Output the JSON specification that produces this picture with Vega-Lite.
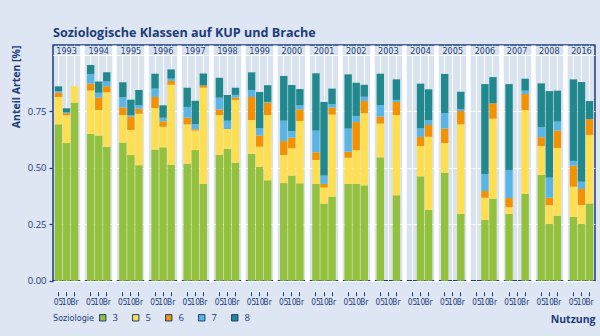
{
  "$schema": "https://vega.github.io/schema/vega-lite/v6.json",
  "autosize": "none",
  "padding": {"left": 53, "top": 45, "right": 5, "bottom": 55},
  "width": 542,
  "height": 235.7,
  "background": "#dde6f2",
  "title": {"text": "Soziologische Klassen auf KUP und Brache", "anchor": "start", "frame": "group", "fontSize": 12.6, "fontWeight": "bold", "color": "#1d3c7a", "offset": 5, "font": "Open Sans"},
  "datasets": {
    "bars": [
      {"b":"1993 05","3":0.692,"5":0.121,"6":0.019,"7":0.007,"8":0.021},
      {"b":"1993 10","3":0.609,"5":0.123,"6":0.009,"7":0.004,"8":0.018},
      {"b":"1993 Br","3":0.788,"5":0.072,"6":0,"7":0,"8":0},
      {"b":"1994 05","3":0.649,"5":0.193,"6":0.031,"7":0.041,"8":0.040},
      {"b":"1994 10","3":0.643,"5":0.112,"6":0.055,"7":0.022,"8":0.050},
      {"b":"1994 Br","3":0.593,"5":0.241,"6":0.027,"7":0.021,"8":0.040},
      {"b":"1995 05","3":0.611,"5":0.122,"6":0.034,"7":0.044,"8":0.067},
      {"b":"1995 10","3":0.556,"5":0.111,"6":0.059,"7":0.006,"8":0.069},
      {"b":"1995 Br","3":0.511,"5":0.228,"6":0.022,"7":0.015,"8":0.068},
      {"b":"1996 05","3":0.580,"5":0.184,"6":0.049,"7":0.037,"8":0.066},
      {"b":"1996 10","3":0.590,"5":0.091,"6":0.024,"7":0.016,"8":0.055},
      {"b":"1996 Br","3":0.513,"5":0.354,"6":0.017,"7":0.010,"8":0.041},
      {"b":"1997 05","3":0.518,"5":0.174,"6":0.029,"7":0.048,"8":0.085},
      {"b":"1997 10","3":0.578,"5":0.086,"6":0.006,"7":0.023,"8":0.103},
      {"b":"1997 Br","3":0.428,"5":0.426,"6":0.010,"7":0,"8":0.053},
      {"b":"1998 05","3":0.556,"5":0.177,"6":0.025,"7":0.052,"8":0.088},
      {"b":"1998 10","3":0.584,"5":0.087,"6":0,"7":0.037,"8":0.114},
      {"b":"1998 Br","3":0.522,"5":0.278,"6":0.011,"7":0.011,"8":0.032},
      {"b":"1999 05","3":0.561,"5":0.150,"6":0.102,"7":0.031,"8":0.078},
      {"b":"1999 10","3":0.504,"5":0.089,"6":0.050,"7":0.031,"8":0.161},
      {"b":"1999 Br","3":0.444,"5":0.289,"6":0.055,"7":0.003,"8":0.074},
      {"b":"2000 05","3":0.432,"5":0.124,"6":0.062,"7":0.090,"8":0.198},
      {"b":"2000 10","3":0.465,"5":0.121,"6":0.047,"7":0.029,"8":0.204},
      {"b":"2000 Br","3":0.431,"5":0.276,"6":0.051,"7":0.018,"8":0.072},
      {"b":"2001 05","3":0.428,"5":0.106,"6":0.034,"7":0.096,"8":0.254},
      {"b":"2001 10","3":0.341,"5":0.071,"6":0.016,"7":0.037,"8":0.326},
      {"b":"2001 Br","3":0.372,"5":0.363,"6":0.031,"7":0.015,"8":0.069},
      {"b":"2002 05","3":0.428,"5":0.116,"6":0.027,"7":0.102,"8":0.240},
      {"b":"2002 10","3":0.428,"5":0.149,"6":0.125,"7":0.027,"8":0.147},
      {"b":"2002 Br","3":0.422,"5":0.319,"6":0.054,"7":0.019,"8":0.053},
      {"b":"2003 05","3":0.546,"5":0.149,"6":0.031,"7":0.051,"8":0.139},
      {"b":"2003 Br","3":0.378,"5":0.355,"6":0.058,"7":0.009,"8":0.091},
      {"b":"2004 10","3":0.462,"5":0.134,"6":0.040,"7":0.038,"8":0.198},
      {"b":"2004 Br","3":0.313,"5":0.324,"6":0.052,"7":0.021,"8":0.137},
      {"b":"2005 05","3":0.478,"5":0.131,"6":0.064,"7":0.069,"8":0.173},
      {"b":"2005 Br","3":0.295,"5":0.397,"6":0.059,"7":0.009,"8":0.076},
      {"b":"2006 10","3":0.269,"5":0.098,"6":0.030,"7":0.075,"8":0.398},
      {"b":"2006 Br","3":0.363,"5":0.354,"6":0.068,"7":0,"8":0.116},
      {"b":"2007 05","3":0.295,"5":0.030,"6":0.041,"7":0.124,"8":0.380},
      {"b":"2007 Br","3":0.384,"5":0.371,"6":0.071,"7":0.015,"8":0.053},
      {"b":"2008 05","3":0.468,"5":0.128,"6":0.039,"7":0.044,"8":0.194},
      {"b":"2008 10","3":0.251,"5":0.083,"6":0.033,"7":0.089,"8":0.383},
      {"b":"2008 Br","3":0.288,"5":0.299,"6":0.077,"7":0.040,"8":0.137},
      {"b":"2016 05","3":0.282,"5":0.134,"6":0.093,"7":0.021,"8":0.361},
      {"b":"2016 10","3":0.251,"5":0.084,"6":0.071,"7":0.032,"8":0.441},
      {"b":"2016 Br","3":0.342,"5":0.303,"6":0.070,"7":0,"8":0.080}
    ],
    "years": [
      {"b":"1993 10","j":"1993"},{"b":"1994 10","j":"1994"},{"b":"1995 10","j":"1995"},{"b":"1996 10","j":"1996"},
      {"b":"1997 10","j":"1997"},{"b":"1998 10","j":"1998"},{"b":"1999 10","j":"1999"},{"b":"2000 10","j":"2000"},
      {"b":"2001 10","j":"2001"},{"b":"2002 10","j":"2002"},{"b":"2003 10","j":"2003"},{"b":"2004 10","j":"2004"},
      {"b":"2005 10","j":"2005"},{"b":"2006 10","j":"2006"},{"b":"2007 10","j":"2007"},{"b":"2008 10","j":"2008"},
      {"b":"2016 10","j":"2016"}
    ]
  },
  "encoding": {
    "x": {
      "field": "b", "type": "nominal",
      "scale": {
        "domain": ["1993 05","1993 10","1993 Br","1993 -","1994 05","1994 10","1994 Br","1994 -","1995 05","1995 10","1995 Br","1995 -","1996 05","1996 10","1996 Br","1996 -","1997 05","1997 10","1997 Br","1997 -","1998 05","1998 10","1998 Br","1998 -","1999 05","1999 10","1999 Br","1999 -","2000 05","2000 10","2000 Br","2000 -","2001 05","2001 10","2001 Br","2001 -","2002 05","2002 10","2002 Br","2002 -","2003 05","2003 10","2003 Br","2003 -","2004 05","2004 10","2004 Br","2004 -","2005 05","2005 10","2005 Br","2005 -","2006 05","2006 10","2006 Br","2006 -","2007 05","2007 10","2007 Br","2007 -","2008 05","2008 10","2008 Br","2008 -","2016 05","2016 10","2016 Br"],
        "paddingInner": 0.08, "paddingOuter": 0.22
      },
      "axis": {
        "title": "Nutzung", "titleAnchor": "end", "titleFontWeight": "bold", "titleFontSize": 10.5, "titleColor": "#1d3c7a", "titlePadding": 9, "titleFont": "Open Sans",
        "labelExpr": "indexof(datum.value, '-') >= 0 ? '' : split(datum.value, ' ')[1]",
        "labelAngle": 0, "labelOverlap": false, "labelFontSize": 8.3, "labelColor": "#1d3c7a", "labelPadding": 2,
        "labelFont": "Liberation Sans Narrow, DejaVu Sans Condensed, sans-serif",
        "domain": false, "offset": 11, "tickSize": 4, "tickWidth": 1,
        "tickColor": {"condition": {"test": "indexof(datum.value, '-') >= 0", "value": "transparent"}, "value": "#1d3c7a"},
        "grid": true, "gridColor": "white",
        "gridWidth": {"condition": {"test": "indexof(datum.value, '-') >= 0", "value": 4.5}, "value": 1}
      }
    }
  },
  "layer": [
    {
      "data": {"name": "bars"},
      "transform": [{"fold": ["3","5","6","7","8"], "as": ["Soziologie","v"]}],
      "mark": {"type": "bar"},
      "encoding": {
        "y": {
          "field": "v", "type": "quantitative", "stack": "zero",
          "scale": {"domain": [0, 1.043], "nice": false, "zero": true},
          "axis": {
            "title": "Anteil Arten [%]", "titleAnchor": "end", "titleFontWeight": "bold", "titleFontSize": 10.5, "titleColor": "#1d3c7a", "titlePadding": 6, "titleFont": "Open Sans",
            "values": [0, 0.125, 0.25, 0.375, 0.5, 0.625, 0.75, 0.875, 1.0],
            "labelExpr": "(datum.value * 4) % 1 == 0 && datum.value < 1 ? format(datum.value, '.2f') : ''",
            "labelFontSize": 9.5, "labelColor": "#1d3c7a", "labelPadding": 3, "labelFont": "Open Sans",
            "domain": false, "tickSize": 4, "tickWidth": 1.2,
            "tickColor": {"condition": {"test": "(datum.value * 4) % 1 == 0 && datum.value < 1", "value": "#1d3c7a"}, "value": "transparent"},
            "grid": true, "gridColor": "white", "gridWidth": 1
          }
        },
        "color": {
          "field": "Soziologie", "type": "nominal",
          "scale": {"domain": ["3","5","6","7","8"], "range": ["#94c13c","#ffdf4f","#f39200","#5bb5e4","#21898d"]},
          "legend": {
            "orient": "none", "legendX": 0, "legendY": 268, "direction": "horizontal",
            "title": "Soziologie", "titleOrient": "left", "titleFontWeight": "normal", "titleFontSize": 9, "titleColor": "#1d3c7a", "titlePadding": 3,
            "titleFont": "Liberation Sans Narrow, DejaVu Sans Condensed, sans-serif",
            "symbolType": "square", "symbolSize": 40, "symbolStrokeColor": "#1d3c7a", "symbolStrokeWidth": 1,
            "labelFontSize": 9.5, "labelColor": "#1d3c7a", "labelOffset": 5, "columnPadding": 12,
            "labelFont": "Open Sans"
          }
        },
        "order": {"field": "Soziologie", "type": "nominal", "sort": "ascending"}
      }
    },
    {
      "data": {"name": "years"},
      "mark": {"type": "text", "fontSize": 9, "color": "#1d3c7a", "baseline": "alphabetic", "font": "Liberation Sans Narrow, DejaVu Sans Condensed, sans-serif"},
      "encoding": {
        "y": {"datum": 1.003, "type": "quantitative"},
        "text": {"field": "j", "type": "nominal"}
      }
    }
  ],
  "config": {
    "font": "Open Sans",
    "view": {"fill": "#d9e3f0", "stroke": "#1d3e7c", "strokeWidth": 1.5}
  }
}
